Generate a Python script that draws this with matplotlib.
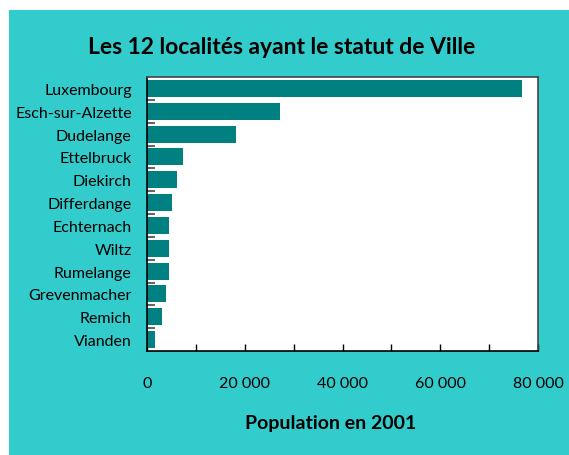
import numpy as np
import matplotlib as mpl
import matplotlib.pyplot as plt
from matplotlib.patches import Rectangle
from matplotlib.ticker import FuncFormatter, MultipleLocator

# données
villes = ["Luxembourg", "Esch-sur-Alzette", "Dudelange", "Ettelbruck", "Diekirch",
          "Differdange", "Echternach", "Wiltz", "Rumelange", "Grevenmacher",
          "Remich", "Vianden"]
population = [76700, 27200, 18200, 7300, 6100, 5200, 4600, 4600, 4400, 3800, 3000, 1600]

mpl.rcParams['font.family'] = ['Lato', 'DejaVu Sans']

W, H = 569, 456
fig = plt.figure(figsize=(W / 100, H / 100), dpi=100)
fig.patch.set_facecolor('white')
# fond turquoise
fig.patches.append(Rectangle((9 / W, 0), 1 - 9 / W, (H - 11) / H,
                             transform=fig.transFigure, facecolor='#33CCCC',
                             edgecolor='none', zorder=-5))

ax = fig.add_axes([147 / W, 1 - 352 / H, (538 - 147) / W, (352 - 78) / H])
ax.set_zorder(2)
ax.set_facecolor('white')

y = np.arange(len(villes))
ax.barh(y, population, height=0.74, color='#008080', zorder=2)
ax.set_ylim(len(villes) - 0.5, -0.5)
ax.set_xlim(0, 80000)

ax.set_yticks(y)
ax.set_yticklabels(villes, fontsize=11.5)
ax.set_yticks(np.arange(len(villes) - 1) + 0.5, minor=True)
ax.tick_params(axis='y', which='major', length=0, pad=11)
ax.tick_params(axis='y', which='minor', direction='in', length=6, width=1.5,
               color='#666666')

ax.xaxis.set_major_locator(MultipleLocator(20000))
ax.xaxis.set_minor_locator(MultipleLocator(10000))
ax.xaxis.set_major_formatter(FuncFormatter(lambda v, p: f"{int(v):,}".replace(",", " ")))
ax.tick_params(axis='x', which='both', direction='in', length=5, width=1,
               labelsize=11.5, pad=18)

for s in ax.spines.values():
    s.set_linewidth(1.2)
ax.spines['left'].set_color('black')
ax.spines['bottom'].set_color('black')
ax.spines['top'].set_color('#444444')
ax.spines['right'].set_color('#444444')

fig.text(282 / W, 1 - 47 / H, "Les 12 localités ayant le statut de Ville",
         ha='center', va='center', fontsize=16.5, fontweight='bold')
fig.text(331 / W, 1 - 423 / H, "Population en 2001",
         ha='center', va='center', fontsize=14, fontweight='bold')

fig.savefig('out.png', dpi=100, facecolor='white')
